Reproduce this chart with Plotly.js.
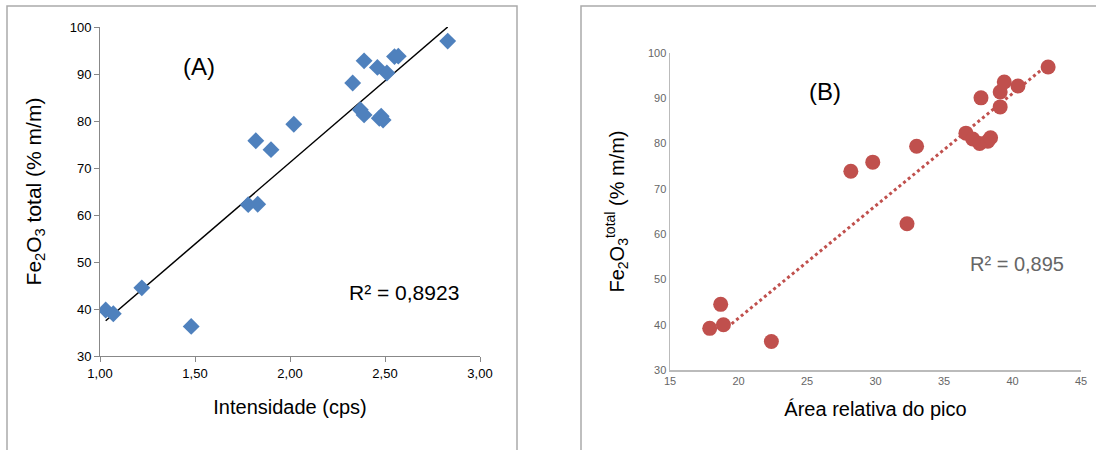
<!DOCTYPE html>
<html><head><meta charset="utf-8">
<script src="https://cdn.plot.ly/plotly-3.0.1.min.js"></script>
<style>body{margin:0;background:#fff}#c{width:1096px;height:450px}</style>
</head><body><div id="c"></div>
<script>
const aX = [1.03,1.07,1.22,1.48,1.78,1.82,1.83,1.90,2.02,2.33,2.37,2.39,2.39,2.46,2.47,2.48,2.49,2.51,2.55,2.57,2.83];
const aY = [39.8,39.0,44.5,36.3,62.2,75.8,62.3,73.9,79.3,88.1,82.4,92.8,81.3,91.4,80.6,81.0,80.2,90.2,93.7,93.8,97.0];
const aTrendX = [1.03,2.83];
const aTrendY = [37.5,100];
const bX = [17.9,18.7,18.9,22.4,28.2,29.8,32.3,33.0,36.6,37.1,37.6,37.7,38.2,38.4,39.1,39.1,39.4,40.4,42.6];
const bY = [39.2,44.5,40.0,36.3,73.9,75.9,62.3,79.4,82.3,81.0,80.0,90.1,80.5,81.3,88.1,91.4,93.6,92.7,96.9];
const bTrendX = [19.5,42.6];
const bTrendY = [40.2,97.5];

const narrow = '"Liberation Sans Narrow", "Arial Narrow", "Liberation Sans", sans-serif';
const data = [
  {x: aTrendX, y: aTrendY, mode: 'lines', line: {color: '#000', width: 1.5}, xaxis: 'x', yaxis: 'y'},
  {x: aX, y: aY, mode: 'markers', marker: {symbol: 'diamond', size: 13, color: '#4f81bd'}, xaxis: 'x', yaxis: 'y'},
  {x: bTrendX, y: bTrendY, mode: 'lines', line: {color: '#c0504d', width: 3, dash: 'dot'}, xaxis: 'x2', yaxis: 'y2'},
  {x: bX, y: bY, mode: 'markers', marker: {symbol: 'circle', size: 15, color: '#c0504d'}, xaxis: 'x2', yaxis: 'y2'}
];
const layout = {
  width: 1096, height: 450, showlegend: false,
  margin: {l: 0, r: 0, t: 0, b: 0},
  paper_bgcolor: '#fff', plot_bgcolor: '#fff',
  xaxis: {domain: [100/1096, 480/1096], range: [1, 3], dtick: 0.5, tickformat: '.2f',
    showgrid: false, zeroline: false, showline: true, linecolor: '#888', ticks: 'outside', ticklen: 5, tickcolor: '#888',
    tickfont: {family: 'Liberation Sans', size: 13, color: '#000'},
    title: {text: 'Intensidade (cps)', font: {family: narrow, size: 20, color: '#000'}, standoff: 20}},
  yaxis: {domain: [1-356/450, 1-27/450], range: [30, 100], dtick: 10,
    showgrid: false, zeroline: false, showline: true, linecolor: '#888', ticks: 'outside', ticklen: 5, tickcolor: '#888',
    tickfont: {family: 'Liberation Sans', size: 13, color: '#000'},
    title: {text: 'Fe<sub>2</sub>O<sub>3</sub> total (% m/m)', font: {family: narrow, size: 21, color: '#000'}, standoff: 22}},
  xaxis2: {domain: [670/1096, 1081/1096], range: [15, 45], dtick: 5, anchor: 'y2',
    showgrid: false, zeroline: false, showline: true, linecolor: '#bbb', linewidth: 1.5, ticks: '',
    tickfont: {family: 'Liberation Sans', size: 11, color: '#666'},
    title: {text: 'Área relativa do pico', font: {family: narrow, size: 20, color: '#000'}, standoff: 16}},
  yaxis2: {domain: [1-370/450, 1-53/450], range: [30, 100], dtick: 10, anchor: 'x2',
    showgrid: false, zeroline: false, showline: true, linecolor: '#bbb', linewidth: 1.5, ticks: '',
    tickfont: {family: 'Liberation Sans', size: 11, color: '#666'},
    title: {text: 'Fe<sub>2</sub>O<sub>3</sub><sup>total</sup> (% m/m)', font: {family: narrow, size: 20, color: '#000'}, standoff: 18}},
  separators: ',.',
  annotations: [
    {xref: 'x', yref: 'y', x: 1.52, y: 91.5, text: '(A)', showarrow: false, font: {family: narrow, size: 24, color: '#000'}},
    {xref: 'x', yref: 'y', x: 2.6, y: 43.5, text: 'R² = 0,8923', showarrow: false, font: {family: 'Liberation Sans', size: 21, color: '#000'}},
    {xref: 'x2', yref: 'y2', x: 26.3, y: 91.5, text: '(B)', showarrow: false, font: {family: narrow, size: 24, color: '#000'}},
    {xref: 'x2', yref: 'y2', x: 40.3, y: 53.5, text: 'R² = 0,895', showarrow: false, font: {family: 'Liberation Sans', size: 20, color: '#666'}}
  ],
  shapes: [
    {type: 'rect', xref: 'paper', yref: 'paper', x0: 7/1096, x1: 517/1096, y0: -0.01, y1: 1-6/450, line: {color: '#aaa', width: 1.5}},
    {type: 'rect', xref: 'paper', yref: 'paper', x0: 581/1096, x1: 1.01, y0: -0.01, y1: 1-6/450, line: {color: '#aaa', width: 1.5}}
  ]
};
Plotly.newPlot('c', data, layout, {staticPlot: true});
</script></body></html>
